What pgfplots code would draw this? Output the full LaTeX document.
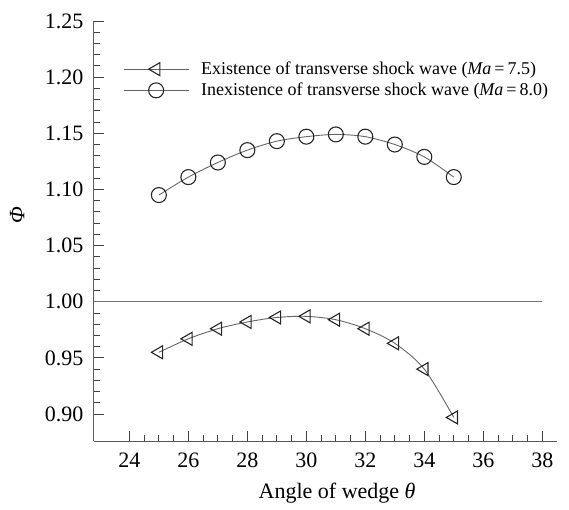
\documentclass[border=0pt]{standalone}
\usepackage{fontspec}
\setmainfont{Liberation Serif}
\usepackage{pgfplots}
\usepackage{pgfplotstable}
\pgfplotsset{compat=1.18}
\pgfplotstableread{
x y
25 0.955
26 0.967
27 0.976
28 0.982
29 0.986
30 0.987
31 0.984
32 0.976
33 0.963
34 0.940
35 0.897
}\existence
\pgfplotstableread{
x y
25 1.095
26 1.111
27 1.124
28 1.135
29 1.143
30 1.147
31 1.149
32 1.147
33 1.140
34 1.129
35 1.111
}\inexistence
\begin{document}
\begin{tikzpicture}
\begin{axis}[
  scale only axis, width=463pt, height=420pt,
  xmin=22.8, xmax=38.5, ymin=0.876, ymax=1.25,
  axis lines=left,
  axis line style={-, draw=black!65, line width=1pt},
  xtick={24,26,28,30,32,34,36,38}, minor x tick num=3,
  ytick={0.90,0.95,1.00,1.05,1.10,1.15,1.20,1.25}, minor y tick num=4,
  tick align=inside, major tick length=10pt, minor tick length=6pt,
  tick style={black!75, line width=0.9pt},
  /pgf/number format/assume math mode=true,
  yticklabel style={/pgf/number format/.cd, fixed, fixed zerofill, precision=2, /tikz/.cd, xshift=-7pt},
  xticklabel style={/pgf/number format/.cd, fixed, precision=0, /tikz/.cd, yshift=-8pt},
  ticklabel style={font=\fontsize{22}{26}\selectfont},
  xlabel={Angle of wedge \textit{θ}},
  ylabel={\textit{Φ}},
  label style={font=\fontsize{22}{26}\selectfont},
  xlabel style={at={(rel axis cs:0.525,0)}, anchor=north, yshift=-38pt},
  ylabel style={at={(rel axis cs:0,0.538)}, anchor=south, yshift=66pt},
  legend style={draw=none, fill=none, at={(rel axis cs:0.0626,0.905)}, anchor=north west,
    font=\fontsize{18}{21}\selectfont, inner sep=0pt, row sep=5pt,
    nodes={inner ysep=1pt},
    /tikz/every odd column/.append style={column sep=10pt}},
  legend cell align=left,
  legend image code/.code={\draw[mark repeat=2, mark phase=2, #1] plot coordinates {(0pt,0pt) (32.5pt,0pt) (65pt,0pt)};},
]
\coordinate (SW) at (rel axis cs:0,0);
\coordinate (NE) at (rel axis cs:1,1);
\addplot[smooth, color=black!60, line width=0.9pt, mark=triangle, mark size=7.5pt,
  mark options={rotate=90, draw=black!85, fill=white, line width=1.1pt, solid}]
  table[x=x, y=y] {\existence};
\addlegendentry{Existence of transverse shock wave (\textit{Ma}\,=\,7.5)}
\addplot[smooth, color=black!60, line width=0.9pt, mark=o, mark size=7.5pt,
  mark options={draw=black!85, fill=white, line width=1.1pt, solid}]
  table[x=x, y=y] {\inexistence};
\addlegendentry{Inexistence of transverse shock wave (\textit{Ma}\,=\,8.0)}
\addplot[black!55, line width=0.9pt, forget plot] coordinates {(22.8,1.00) (38,1.00)};
\end{axis}
\pgfresetboundingbox
\path ([xshift=-94pt,yshift=-68pt]SW) rectangle ([xshift=12pt,yshift=21pt]NE);
\end{tikzpicture}
\end{document}
